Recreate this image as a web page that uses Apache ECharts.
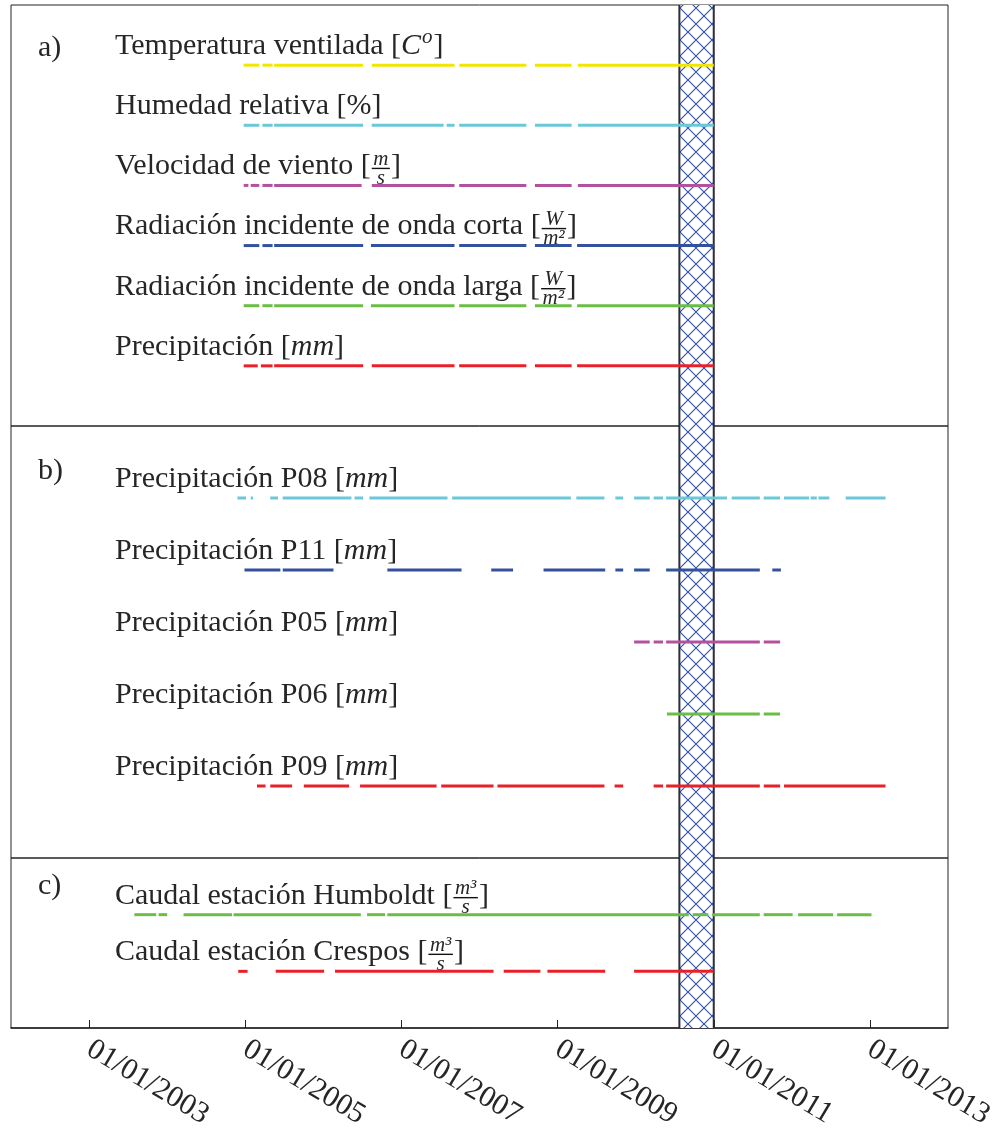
<!DOCTYPE html>
<html>
<head>
<meta charset="utf-8">
<script src="https://cdn.jsdelivr.net/npm/echarts@6/dist/echarts.min.js"></script>
<style>
  html, body { margin: 0; padding: 0; background: #fff; }
  #chart { width: 1008px; height: 1130px; }
</style>
</head>
<body>
<div id="chart"></div>
<script>
// Time axis in decimal years
const YEAR_MIN = 2002;
const YEAR_MAX = 2014;
const tickYears = [2003, 2005, 2007, 2009, 2011, 2013];

// Hatched period (decimal years)
const hatchPeriod = [2010.56, 2011.0];

// Panel a) — station variables: data-availability periods [start, end]
const tempSeg  = [[2004.98,2005.18],[2005.22,2005.35],[2005.37,2006.51],[2006.62,2007.68],[2007.74,2008.60],[2008.71,2009.18],[2009.26,2011.0]];
const humSeg   = [[2004.98,2005.18],[2005.22,2005.35],[2005.37,2006.51],[2006.62,2007.54],[2007.58,2007.68],[2007.74,2008.60],[2008.71,2009.18],[2009.26,2011.0]];
const windSeg  = [[2004.98,2005.04],[2005.07,2005.18],[2005.22,2005.35],[2005.37,2006.49],[2006.62,2007.68],[2007.74,2008.60],[2008.71,2009.18],[2009.26,2011.0]];
const swSeg    = [[2004.98,2005.18],[2005.22,2005.35],[2005.37,2006.51],[2006.61,2007.68],[2007.74,2008.60],[2008.71,2009.18],[2009.25,2011.0]];
const lwSeg    = [[2004.98,2005.18],[2005.22,2005.35],[2005.37,2006.51],[2006.61,2007.68],[2007.74,2008.60],[2008.71,2009.18],[2009.25,2011.0]];
const precSeg  = [[2004.98,2005.16],[2005.20,2005.35],[2005.37,2006.51],[2006.62,2007.68],[2007.74,2008.60],[2008.71,2009.18],[2009.25,2011.0]];

// Panel b) — rain gauges
const p08Seg = [[2004.90,2005.01],[2005.07,2005.10],[2005.32,2005.42],[2005.48,2006.36],[2006.40,2006.51],[2006.59,2007.59],[2007.65,2009.17],[2009.24,2009.60],[2009.74,2009.84],[2009.98,2010.18],[2010.23,2010.35],[2010.39,2011.17],[2011.23,2011.59],[2011.64,2011.85],[2011.90,2012.22],[2012.24,2012.32],[2012.34,2012.48],[2012.69,2013.20]];
const p11Seg = [[2004.99,2005.45],[2005.48,2006.13],[2006.82,2007.77],[2008.15,2008.43],[2008.82,2009.61],[2009.74,2009.84],[2009.98,2010.18],[2010.39,2011.59],[2011.75,2011.86]];
const p05Seg = [[2009.98,2010.18],[2010.23,2010.35],[2010.39,2011.59],[2011.64,2011.85]];
const p06Seg = [[2010.40,2011.59],[2011.64,2011.85]];
const p09Seg = [[2005.15,2005.26],[2005.32,2005.60],[2005.75,2006.33],[2006.47,2007.45],[2007.51,2008.18],[2008.23,2009.60],[2009.73,2009.84],[2010.23,2010.35],[2010.39,2011.59],[2011.64,2011.85],[2011.90,2013.20]];

// Panel c) — streamflow stations
const humboldtSeg = [[2003.58,2003.86],[2003.89,2004.00],[2004.21,2004.83],[2004.85,2006.48],[2006.56,2006.79],[2006.82,2010.68],[2010.73,2010.93],[2010.98,2011.59],[2011.64,2012.01],[2012.08,2012.53],[2012.58,2013.02]];
const crespSeg    = [[2004.91,2005.03],[2005.39,2006.01],[2006.15,2008.18],[2008.31,2008.78],[2008.87,2009.61],[2009.98,2011.0]];

// Row names and units
const namesA = ['Temperatura ventilada', 'Humedad relativa', 'Velocidad de viento',
                'Radiación incidente de onda corta', 'Radiación incidente de onda larga', 'Precipitación'];
const unitsA = ['C^o', '%', 'm/s', 'W/m²', 'W/m²', 'mm'];
const namesB = ['Precipitación P08', 'Precipitación P11', 'Precipitación P05', 'Precipitación P06', 'Precipitación P09'];
const unitsB = ['mm', 'mm', 'mm', 'mm', 'mm'];
const namesC = ['Caudal estación Humboldt', 'Caudal estación Crespos'];
const unitsC = ['m³/s', 'm³/s'];

const YELLOW = '#f0e600', CYAN = '#6ac8d8', MAGENTA = '#b4519f',
      BLUE = '#34519e', GREEN = '#6abe46', RED = '#e82129';

const panels = [
  { names: namesA, units: unitsA, segs: [tempSeg, humSeg, windSeg, swSeg, lwSeg, precSeg],
    colors: [YELLOW, CYAN, MAGENTA, BLUE, GREEN, RED], top: 5, height: 421, tag: 'a)' },
  { names: namesB, units: unitsB, segs: [p08Seg, p11Seg, p05Seg, p06Seg, p09Seg],
    colors: [CYAN, BLUE, MAGENTA, GREEN, RED], top: 426, height: 432, tag: 'b)' },
  { names: namesC, units: unitsC, segs: [humboldtSeg, crespSeg],
    colors: [GREEN, RED], top: 858, height: 170, tag: 'c)' }
];

const FONT = '"Liberation Serif", "Times New Roman", serif';
const TEXT_COLOR = '#262626';
const MAIN_SIZE = 30, SMALL_SIZE = 21;

// Text measuring helper
const measureCtx = document.createElement('canvas').getContext('2d');
function textWidth(str, size, italic) {
  measureCtx.font = (italic ? 'italic ' : '') + size + 'px ' + FONT;
  return measureCtx.measureText(str).width;
}

// Cross-hatch pattern for the shaded period
function makeHatch() {
  const s = 16;
  const c = document.createElement('canvas');
  c.width = s; c.height = s;
  const g = c.getContext('2d');
  g.fillStyle = '#ffffff';
  g.fillRect(0, 0, s, s);
  g.strokeStyle = '#3556b2';
  g.lineWidth = 1.2;
  g.beginPath();
  g.moveTo(0, 0); g.lineTo(s, s);
  g.moveTo(s, 0); g.lineTo(0, s);
  g.stroke();
  return c;
}
const hatchCanvas = makeHatch();

function txt(str, x, y, size, italic) {
  return {
    type: 'text', x: x, y: y,
    style: {
      text: str, fontSize: size, fontFamily: FONT, fontStyle: italic ? 'italic' : 'normal',
      fill: TEXT_COLOR, align: 'left', verticalAlign: 'middle'
    }
  };
}

// Row label: name followed by a bracketed unit (plain, superscript or fraction)
function buildLabel(name, unit, x, yc) {
  const kids = [];
  const head = name + ' [';
  kids.push(txt(head, x, yc, MAIN_SIZE, false));
  let cx = x + textWidth(head, MAIN_SIZE, false);
  if (unit.indexOf('/') >= 0) {
    const parts = unit.split('/');
    const wn = textWidth(parts[0], SMALL_SIZE, true);
    const wd = textWidth(parts[1], SMALL_SIZE, true);
    const fw = Math.max(wn, wd) + 5;
    const barY = yc + 2;
    kids.push(txt(parts[0], cx + (fw - wn) / 2, barY - 9, SMALL_SIZE, true));
    kids.push({ type: 'line', shape: { x1: cx + 1, y1: barY, x2: cx + fw - 1, y2: barY },
                style: { stroke: '#111', lineWidth: 1.4 } });
    kids.push(txt(parts[1], cx + (fw - wd) / 2, barY + 10, SMALL_SIZE, true));
    cx += fw;
  } else if (unit.indexOf('^') >= 0) {
    const parts = unit.split('^');
    kids.push(txt(parts[0], cx, yc, MAIN_SIZE, true));
    cx += textWidth(parts[0], MAIN_SIZE, true) + 1;
    kids.push(txt(parts[1], cx, yc - 9, SMALL_SIZE, true));
    cx += textWidth(parts[1], SMALL_SIZE, true) + 1;
  } else {
    const italic = unit !== '%';
    kids.push(txt(unit, cx, yc, MAIN_SIZE, italic));
    cx += textWidth(unit, MAIN_SIZE, italic);
  }
  kids.push(txt(']', cx, yc, MAIN_SIZE, false));
  return { type: 'group', children: kids };
}

const grids = [], xAxes = [], yAxes = [], series = [], graphics = [];

panels.forEach(function (p, gi) {
  const last = gi === panels.length - 1;
  grids.push({ left: 11, right: 60, top: p.top, height: p.height, show: true,
               outerBoundsMode: 'none', containLabel: false,
               borderColor: '#222', borderWidth: 1, backgroundColor: 'transparent' });
  xAxes.push({
    type: 'value', gridIndex: gi, min: YEAR_MIN, max: YEAR_MAX, interval: 1,
    position: 'bottom', show: last, splitLine: { show: false },
    axisLine: { show: true, onZero: false, lineStyle: { color: '#222', width: 1.5 } },
    axisTick: { show: true, inside: true, length: 8, customValues: tickYears,
                lineStyle: { color: '#222', width: 1 } },
    axisLabel: { show: true, customValues: tickYears, rotate: -31, margin: 19,
                 fontSize: 30, fontFamily: FONT, color: TEXT_COLOR,
                 formatter: function (v) { return '01/01/' + v; } }
  });
  yAxes.push({ type: 'value', gridIndex: gi, min: 0, max: p.names.length + 1,
               inverse: true, show: false });

  // shaded period
  series.push({
    type: 'custom', xAxisIndex: gi, yAxisIndex: gi, z: 1, silent: true,
    data: [[hatchPeriod[0], hatchPeriod[1]]],
    renderItem: function (params, api) {
      const cs = params.coordSys;
      const a = api.coord([api.value(0), 0])[0];
      const b = api.coord([api.value(1), 0])[0];
      return { type: 'group', children: [
        { type: 'rect', shape: { x: a, y: cs.y, width: b - a, height: cs.height },
          style: { fill: { image: hatchCanvas, repeat: 'repeat' } } },
        { type: 'line', shape: { x1: a, y1: cs.y, x2: a, y2: cs.y + cs.height },
          style: { stroke: '#2c2c3c', lineWidth: 2 } },
        { type: 'line', shape: { x1: b, y1: cs.y, x2: b, y2: cs.y + cs.height },
          style: { stroke: '#2c2c3c', lineWidth: 2 } }
      ] };
    }
  });

  // availability segments, one series per row
  p.segs.forEach(function (segs, ri) {
    series.push({
      type: 'custom', xAxisIndex: gi, yAxisIndex: gi, z: 3, silent: true,
      name: p.names[ri],
      data: segs.map(function (s) { return [s[0], s[1], ri + 1]; }),
      encode: { x: [0, 1], y: 2 },
      renderItem: (function (color) {
        return function (params, api) {
          const p1 = api.coord([api.value(0), api.value(2)]);
          const p2 = api.coord([api.value(1), api.value(2)]);
          return { type: 'line', shape: { x1: p1[0], y1: p1[1], x2: p2[0], y2: p1[1] },
                   style: { stroke: color, lineWidth: 3, lineCap: 'butt' } };
        };
      })(p.colors[ri])
    });
  });

  // row labels
  series.push({
    type: 'custom', xAxisIndex: gi, yAxisIndex: gi, z: 4, silent: true,
    data: p.names.map(function (n, ri) { return [YEAR_MIN, ri + 1]; }),
    renderItem: function (params, api) {
      const pt = api.coord([api.value(0), api.value(1)]);
      const i = params.dataIndex;
      return buildLabel(p.names[i], p.units[i], pt[0] + 104, pt[1] - 19);
    }
  });
});

// panel tags
const tagY = [47, 470, 885];
panels.forEach(function (p, gi) {
  graphics.push({ type: 'text', left: 38, top: tagY[gi] - 14,
    style: { text: p.tag, fontSize: MAIN_SIZE, fontFamily: FONT, fill: TEXT_COLOR } });
});

const chart = echarts.init(document.getElementById('chart'), null, { renderer: 'canvas' });
chart.setOption({
  animation: false,
  backgroundColor: '#ffffff',
  grid: grids,
  xAxis: xAxes,
  yAxis: yAxes,
  series: series,
  graphic: graphics
});
</script>
</body>
</html>
